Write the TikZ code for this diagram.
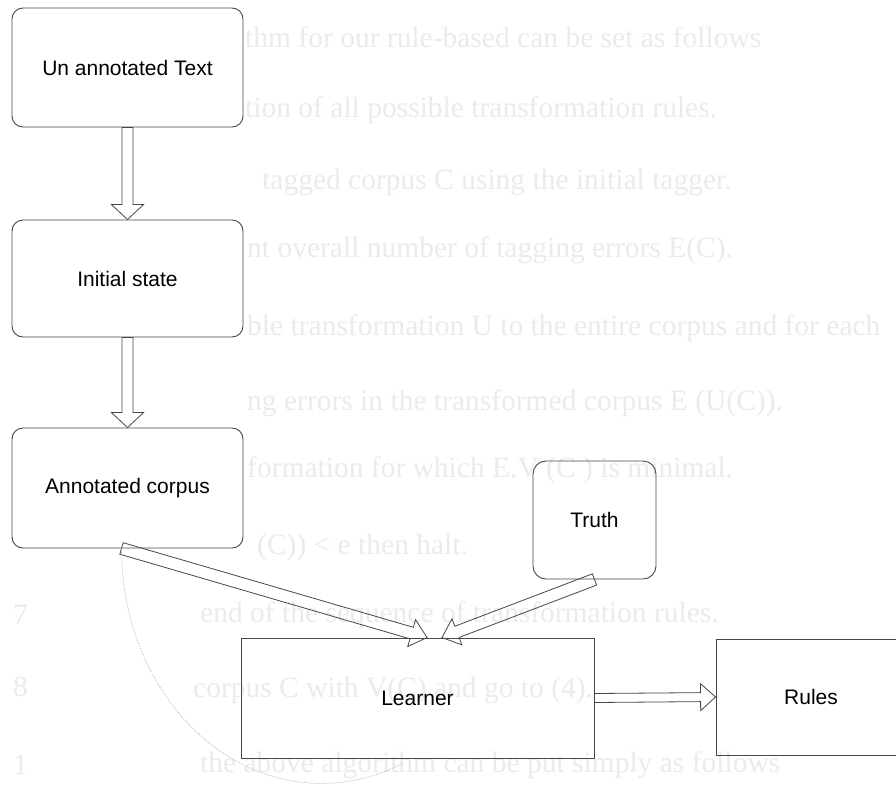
\documentclass[tikz,border=0pt]{standalone}
\usepackage{fontspec}
\setmainfont{Liberation Sans}
\newfontfamily\ghostserif{Liberation Serif}
\usetikzlibrary{calc}
\begin{document}
\begin{tikzpicture}[x=1pt,y=-1pt,
  box/.style={draw=black!72, line width=0.9pt, inner sep=0pt, font=\fontsize{21}{25}\selectfont},
  rbox/.style={box, rounded corners=11pt},
  ghost/.style={text=black!8, anchor=west, inner sep=0pt, font=\fontsize{29.5}{36}\ghostserif},
  hollow/.style n args={3}{draw=black!72, line width=0.8pt, line join=miter, to path={let \p1=(\tikztostart), \p2=(\tikztotarget), \p3=($(\p2)!#3!(\p1)$) in
    ($(\p1)!#1!90:(\p2)$) -- ($(\p3)!#1!90:(\p2)$) -- ($(\p3)!#2!90:(\p2)$) -- (\p2) -- ($(\p3)!#2!-90:(\p2)$) -- ($(\p3)!#1!-90:(\p2)$) -- ($(\p1)!#1!-90:(\p2)$) -- cycle}},
  trace/.style={draw=black!30, densely dotted, line width=0.7pt}
]
\fill[white] (0,0) rectangle (896,785);
\useasboundingbox (0,0) rectangle (896,785);
% faint show-through text of the scanned page
\node[ghost] (g1) at (245,37) {thm for our rule-based can be set as follows};
\node[ghost] (g2) at (245,110) {tion of all possible transformation rules.};
\node[ghost] (g3) at (262,182) {tagged corpus C using the initial tagger.};
\node[ghost] (g4) at (247,250) {nt overall number of tagging errors E(C).};
\node[ghost] (g5) at (247,328) {ble transformation U to the entire corpus and for each};
\node[ghost] (g6) at (247,403) {ng errors in the transformed corpus E (U(C)).};
\node[ghost] (g7) at (247,470) {formation for which E.V (C ) is minimal.};
\node[ghost] (g8) at (257,547) {(C)) < e then halt.};
\node[ghost] (g9) at (13,615) {7};
\node[ghost] (g10) at (200,615) {end of the sequence of transformation rules.};
\node[ghost] (g11) at (13,687) {8};
\node[ghost] (g12) at (193,690) {corpus C with V(C) and go to (4).};
\node[ghost] (g13) at (13,765) {1};
\node[ghost] (g14) at (200,765) {the above algorithm can be put simply as follows};
% diagram
\node[rbox, minimum width=231pt, minimum height=119pt] (unann) at (127.5,67.5) {Un annotated Text};
\node[rbox, minimum width=231pt, minimum height=117pt] (init) at (127.5,278.5) {Initial state};
\node[rbox, minimum width=231pt, minimum height=120pt] (annot) at (127.5,488) {Annotated corpus};
\node[rbox, rounded corners=13pt, minimum width=123pt, minimum height=118pt] (truth) at (594.5,520) {Truth};
\node[box, minimum width=353pt, minimum height=120pt] (learner) at (417.5,698) {Learner};
\node[box, minimum width=190pt, minimum height=116pt] (rules) at (811,697) {Rules};
\coordinate (in1) at ([xshift=9.5pt]learner.north);
\coordinate (in2) at ([xshift=24.5pt]learner.north);
\coordinate (out1) at ([xshift=-6pt]annot.south);
\draw[hollow={5.5pt}{16pt}{15pt}] (unann.south) to (init.north);
\draw[hollow={5.5pt}{16pt}{15pt}] (init.south) to (annot.north);
\draw[hollow={6pt}{14pt}{16pt}] (out1) to (in1);
\draw[hollow={6pt}{14pt}{16pt}] (truth.south) to (in2);
\draw[hollow={4.5pt}{13.5pt}{15pt}] (learner.east) to (rules.west);
\draw[trace] (out1) arc[start angle=180, end angle=66, x radius=200, y radius=235];
\end{tikzpicture}
\end{document}
